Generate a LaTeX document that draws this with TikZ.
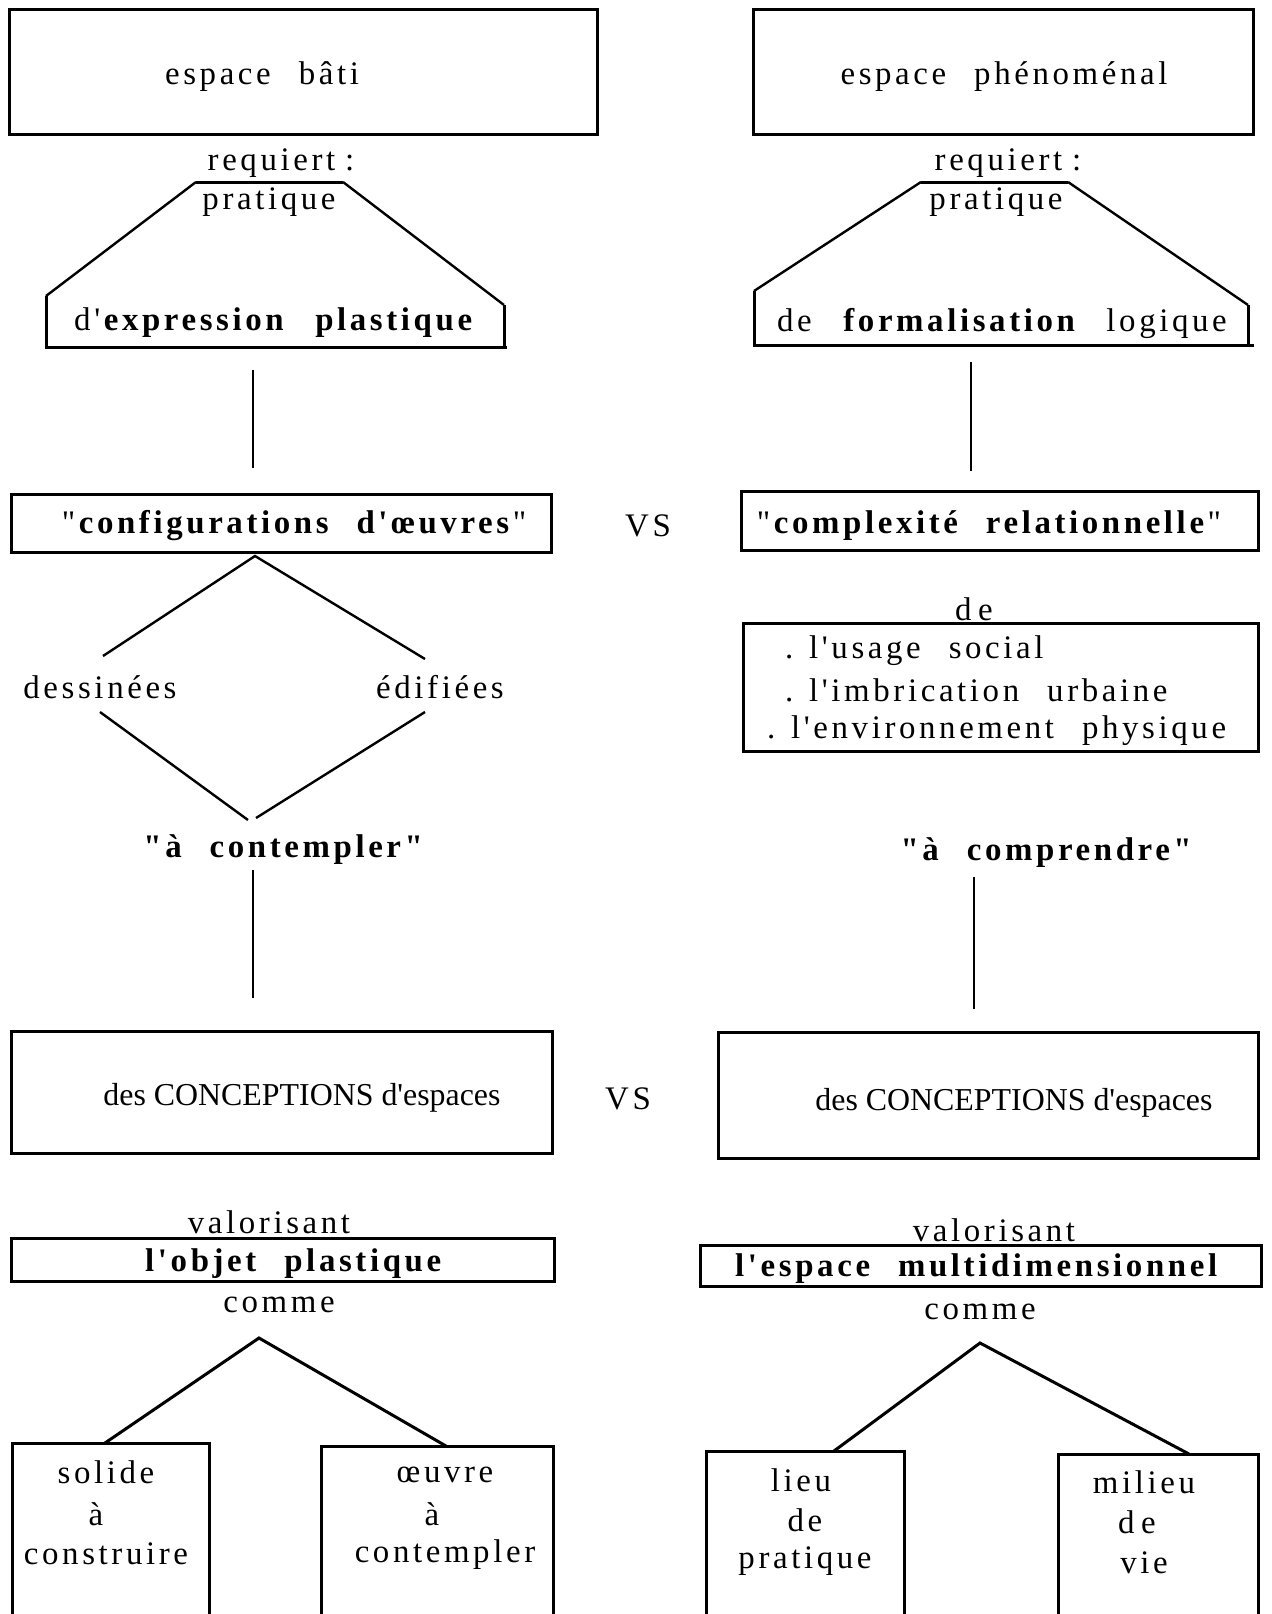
\documentclass[tikz,border=0pt]{standalone}
\usepackage{fontspec}
\setmainfont{Liberation Serif}[LetterSpace=11,Ligatures=TeXOff]
\newfontfamily\plainfont{Liberation Serif}[Ligatures=TeXOff]
\newcommand\wg{\hspace{0.85em}}
\begin{document}
\begin{tikzpicture}[x=1bp,y={(0bp,-1bp)},
  box/.style={draw, line width=3bp, inner sep=0pt},
  edge/.style={line width=3bp, line join=miter},
  lk/.style={line width=2.4bp},
  lbl/.style={inner sep=0pt, yshift=-3bp, font=\fontsize{33}{40}\selectfont},
  plain/.style={inner sep=0pt, yshift=-2bp, font=\fontsize{32}{40}\selectfont\plainfont}]
\useasboundingbox (0,0) rectangle (1271,1614);

% ---------- top boxes
\node[box, minimum width=587bp, minimum height=124bp] (b1) at (303.5,72) {};
\node[lbl] (t1) at (262,74) {espace\wg bâti};
\node[box, minimum width=500bp, minimum height=124bp] (b2) at (1003,72) {};
\node[lbl] (t2) at (1004,74) {espace\wg phénoménal};

\node[lbl] (req1) at (281,160) {requiert\hspace{0.3em}:};
\node[lbl] (req2) at (1008,160) {requiert\hspace{0.3em}:};
\node[lbl] (pr1) at (269,199) {pratique};
\node[lbl] (pr2) at (996,199) {pratique};

% ---------- trapezoids
\coordinate (tl1) at (196,182); \coordinate (tr1) at (343,182);
\coordinate (bl1) at (46,296);  \coordinate (br1) at (504,305);
\coordinate (fr1) at (507,347);
\draw[edge] (tl1) -- (tr1);
\draw[lk] (tl1) -- (bl1);
\draw[lk] (tr1) -- (br1);
\draw[edge] (bl1) |- (fr1);
\draw[edge] (br1) -- (br1 |- fr1);
\node[lbl] (x1) at (275,320) {d'\textbf{expression}\wg\textbf{plastique}};

\coordinate (tl2) at (921,182); \coordinate (tr2) at (1068,182);
\coordinate (bl2) at (754,291); \coordinate (br2) at (1248,305);
\coordinate (fr2) at (1254,345);
\draw[edge] (tl2) -- (tr2);
\draw[lk] (tl2) -- (bl2);
\draw[lk] (tr2) -- (br2);
\draw[edge] (bl2) |- (fr2);
\draw[edge] (br2) -- (br2 |- fr2);
\node[lbl] (x2) at (1002,320) {de\wg\textbf{formalisation}\wg logique};

% ---------- vertical links
\coordinate (v1a) at (253,370); \coordinate (v1b) at (253,468);
\draw[lk] (v1a) -- (v1b);
\coordinate (v2a) at (971,362); \coordinate (v2b) at (971,471);
\draw[lk] (v2a) -- (v2b);

% ---------- configurations / complexite
\node[box, minimum width=539bp, minimum height=58bp] (cf) at (281.5,523) {};
\node[lbl] (tcf) at (294,523) {"\textbf{configurations\wg d'œuvres}"};
\node[lbl] (vs1) at (648,523) {VS};
\node[box, minimum width=517bp, minimum height=59bp] (cx) at (999.5,520.5) {};
\node[lbl] (tcx) at (989,523) {"\textbf{complexité\wg relationnelle}"};

% ---------- diamond
\coordinate (dtop) at (255,556);
\coordinate (dl1) at (103,656); \coordinate (dr1) at (425,659);
\coordinate (dl2) at (100,712); \coordinate (dr2) at (425,712);
\coordinate (db1) at (248,820); \coordinate (db2) at (256,818);
\draw[lk] (dl1) -- (dtop) -- (dr1);
\draw[lk] (dl2) -- (db1);
\draw[lk] (dr2) -- (db2);
\node[lbl] (des) at (100,684) {dessinées};
\node[lbl] (edi) at (440,684) {édifiées};
\node[lbl] (cont) at (285,847) {\textbf{"à\wg contempler"}};

% ---------- de box
\node[lbl] (de) at (974,606) {d\hspace{0.2em}e};
\node[box, minimum width=515bp, minimum height=128bp] (db) at (1000.5,687) {};
\node[lbl, anchor=west] (u1) at (785,648) {. l'usage\wg social};
\node[lbl, anchor=west] (u2) at (785,687) {. l'imbrication\wg urbaine};
\node[lbl, anchor=west] (u3) at (767,728) {. l'environnement\wg physique};
\node[lbl] (comp) at (1048,850) {\textbf{"à\wg comprendre"}};

\coordinate (v3a) at (253,870); \coordinate (v3b) at (253,998);
\draw[lk] (v3a) -- (v3b);
\coordinate (v4a) at (974,877); \coordinate (v4b) at (974,1009);
\draw[lk] (v4a) -- (v4b);

% ---------- conceptions
\node[box, minimum width=540bp, minimum height=122bp] (c1) at (282,1092) {};
\node[plain] (tc1) at (302,1096) {des CONCEPTIONS d'espaces};
\node[lbl] (vs2) at (628,1096) {VS};
\node[box, minimum width=540bp, minimum height=126bp] (c2) at (988,1095) {};
\node[plain] (tc2) at (1014,1101) {des CONCEPTIONS d'espaces};

% ---------- valorisant
\node[lbl] (val1) at (269,1219) {valorisant};
\node[box, minimum width=542bp, minimum height=43bp] (o1) at (283,1259.5) {};
\node[lbl] (to1) at (295,1261) {\textbf{l'objet\wg plastique}};
\node[lbl] (com1) at (279,1302) {comme};

\node[lbl] (val2) at (994,1227) {valorisant};
\node[box, minimum width=561bp, minimum height=41bp] (o2) at (980.5,1265.5) {};
\node[lbl] (to2) at (978,1266) {\textbf{l'espace\wg multidimensionnel}};
\node[lbl] (com2) at (980,1309) {comme};

% ---------- trees
\coordinate (ap1) at (259,1338);
\coordinate (k1) at (105,1443); \coordinate (k2) at (446,1446);
\draw[edge] (k1) -- (ap1) -- (k2);
\coordinate (ap2) at (980,1343);
\coordinate (k3) at (834,1451); \coordinate (k4) at (1189,1454);
\draw[edge] (k3) -- (ap2) -- (k4);

% ---------- bottom open boxes
\coordinate (s1a) at (12,1620); \coordinate (s1b) at (209,1443);
\draw[edge] (s1a) |- (s1b) -- (s1b |- s1a);
\node[lbl] (sa1) at (106,1469) {solide};
\node[lbl] (sa2) at (96,1511) {à};
\node[lbl] (sa3) at (106,1551) {construire};

\coordinate (s2a) at (321,1620); \coordinate (s2b) at (553,1446);
\draw[edge] (s2a) |- (s2b) -- (s2b |- s2a);
\node[lbl] (sb1) at (445,1472) {œuvre};
\node[lbl] (sb2) at (432,1511) {à};
\node[lbl] (sb3) at (445,1552) {contempler};

\coordinate (s3a) at (706,1620); \coordinate (s3b) at (904,1451);
\draw[edge] (s3a) |- (s3b) -- (s3b |- s3a);
\node[lbl] (sc1) at (801,1477) {lieu};
\node[lbl] (sc2) at (805,1517) {de};
\node[lbl] (sc3) at (805,1558) {pratique};

\coordinate (s4a) at (1058,1620); \coordinate (s4b) at (1258,1454);
\draw[edge] (s4a) |- (s4b) -- (s4b |- s4a);
\node[lbl] (sd1) at (1144,1479) {milieu};
\node[lbl] (sd2) at (1137,1519) {d\hspace{0.2em}e};
\node[lbl] (sd3) at (1144,1560) {vie};
\end{tikzpicture}
\end{document}
